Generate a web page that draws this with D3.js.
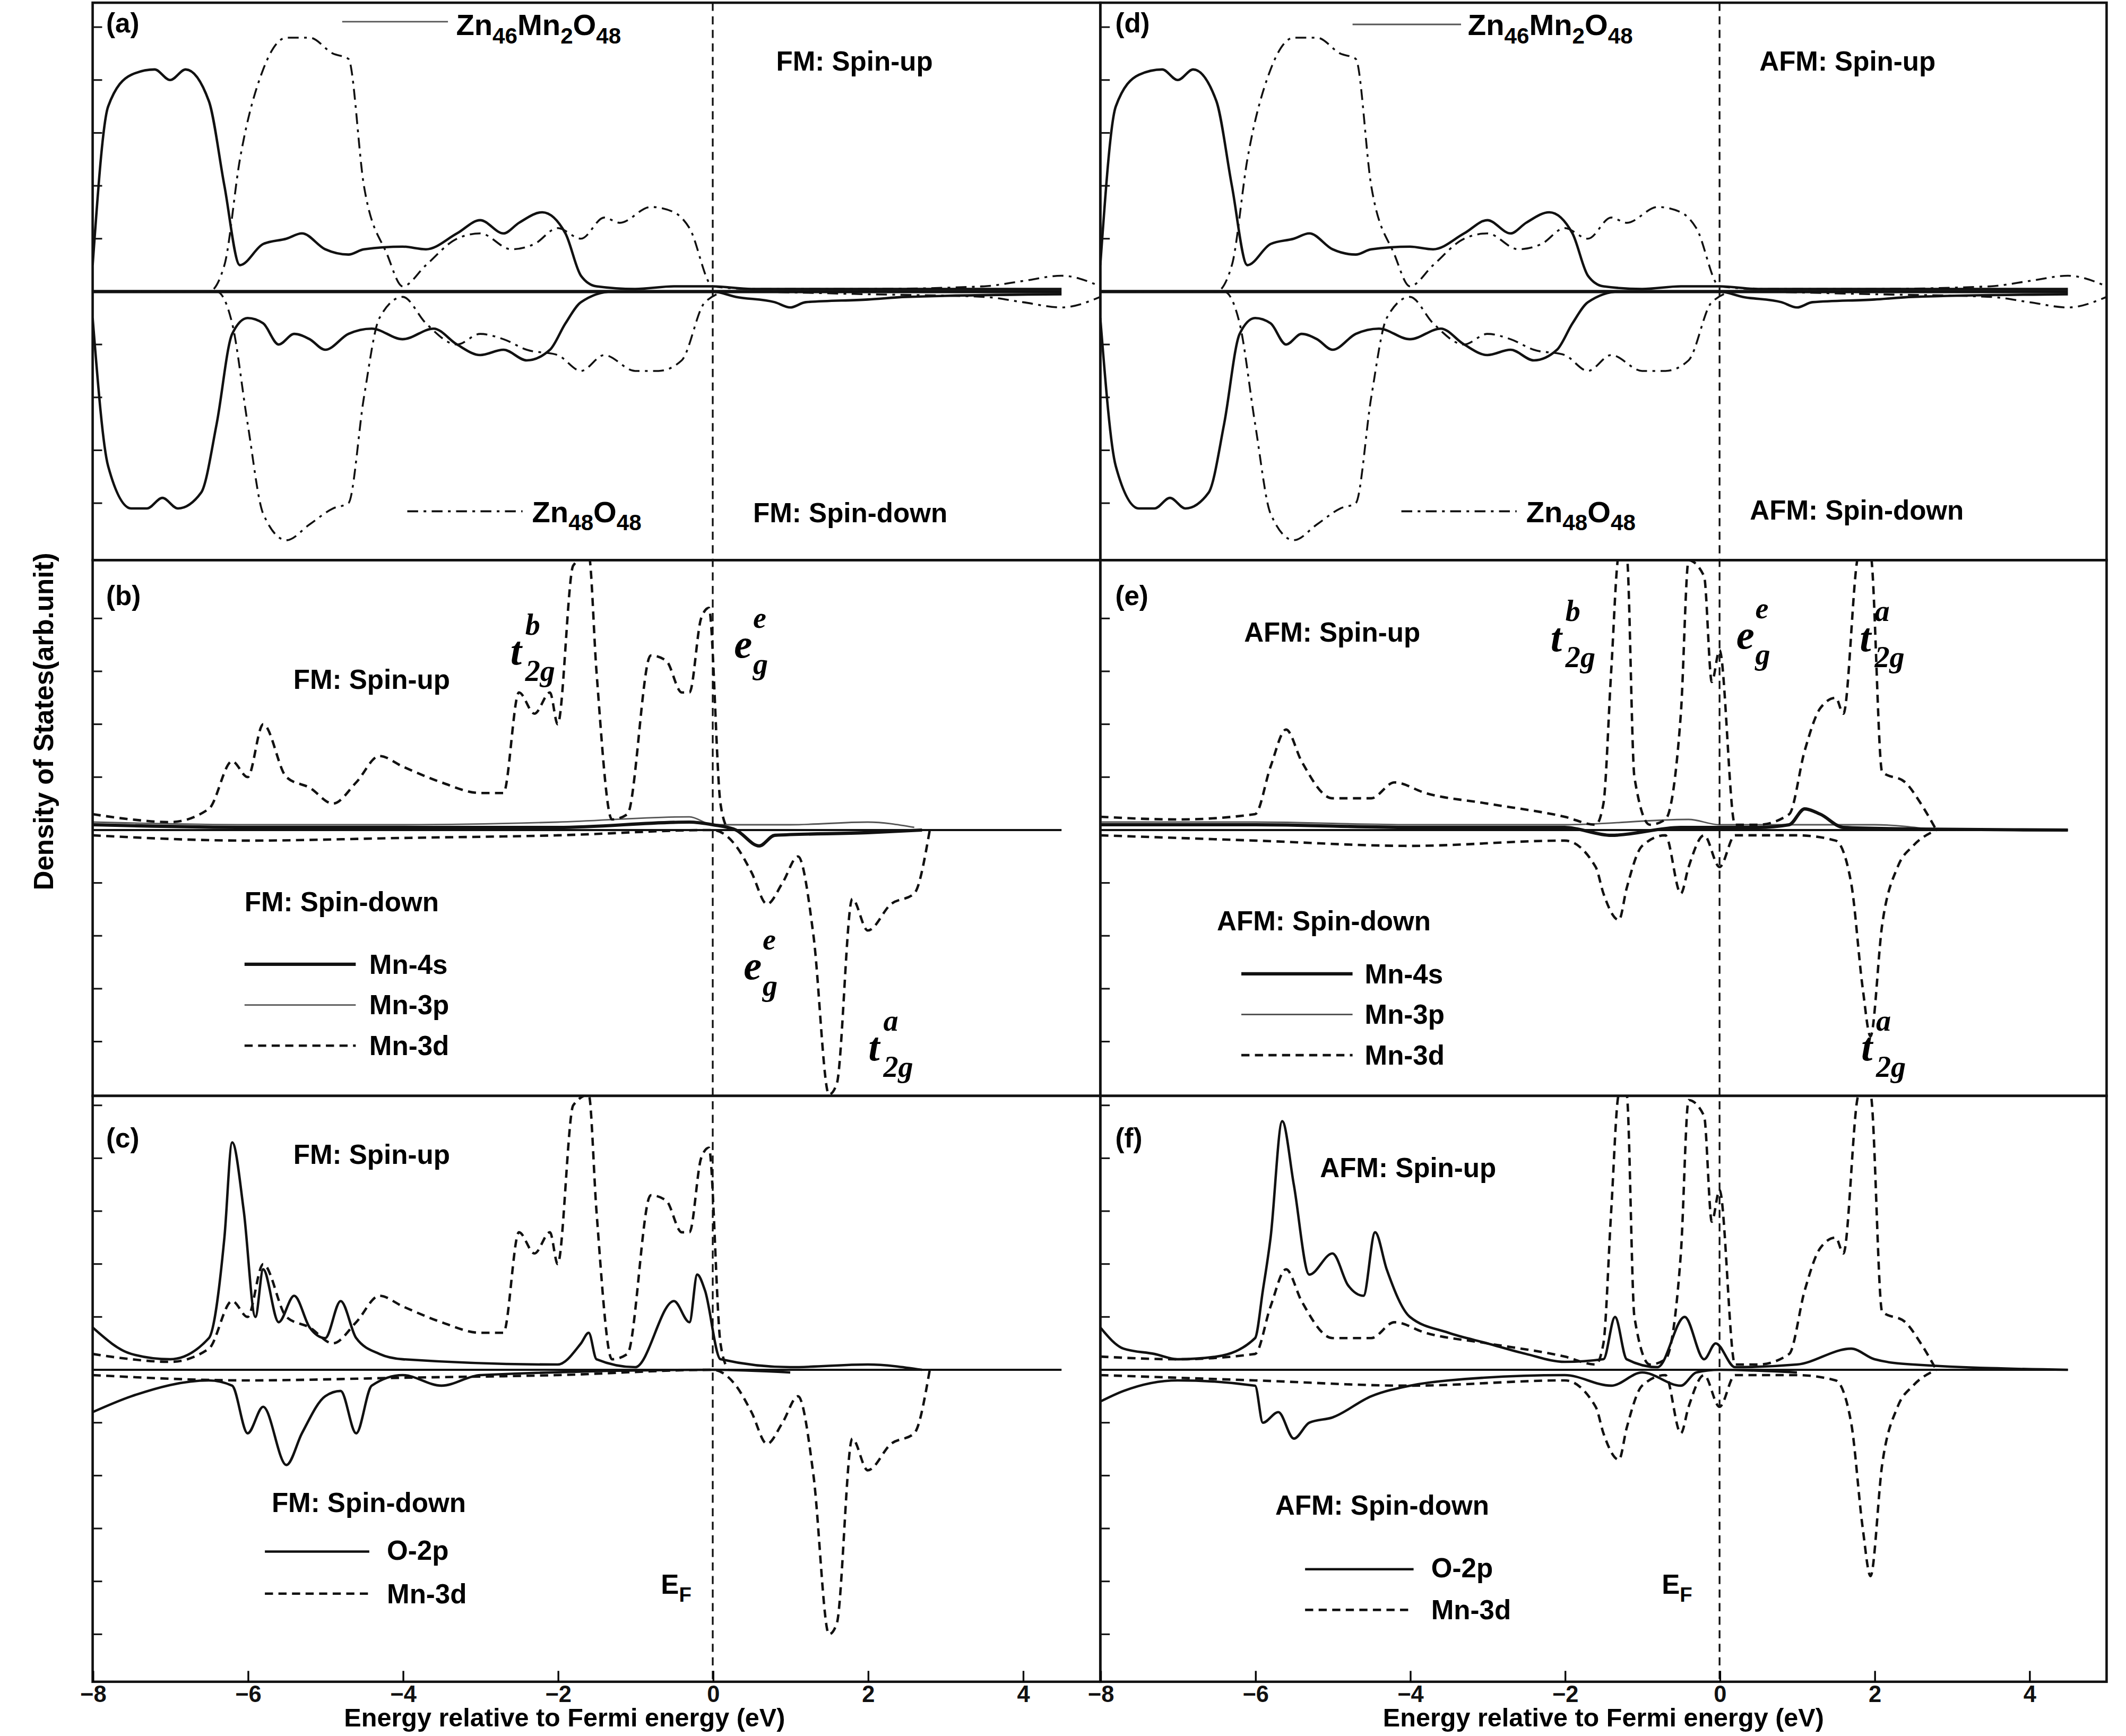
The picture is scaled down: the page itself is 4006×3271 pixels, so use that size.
<!DOCTYPE html>
<html><head><meta charset="utf-8">
<script src="https://cdnjs.cloudflare.com/ajax/libs/d3/7.8.5/d3.min.js"></script>
<style>body{margin:0;background:#fff}</style></head>
<body><div id="chart"></div>
<script>
// x ticks and category text
const xTicks = [-8, -6, -4, -2, 0, 2, 4];

// panel (a)/(d): host DOS, [energy, dos]
const zn46Up = [[-8,0.5],[-7.8,3.5],[-7.5,4.1],[-7.2,4.2],[-7.0,4.0],[-6.8,4.2],[-6.5,3.6],[-6.3,2.0],[-6.1,0.5],[-5.8,0.9],[-5.5,1.0],[-5.3,1.1],[-5.0,0.8],[-4.7,0.7],[-4.5,0.8],[-4.0,0.85],[-3.7,0.8],[-3.3,1.1],[-3.0,1.35],[-2.7,1.1],[-2.5,1.3],[-2.2,1.5],[-1.9,1.1],[-1.7,0.3],[-1.5,0.1],[-1.0,0.05],[-0.5,0.1],[0,0.1],[0.5,0.05],[2,0.05],[4.5,0.05]];
const zn46Down = [[-8,-0.5],[-7.8,-3.3],[-7.5,-4.1],[-7.3,-4.1],[-7.1,-3.9],[-6.9,-4.1],[-6.6,-3.8],[-6.4,-2.5],[-6.2,-0.8],[-6.0,-0.5],[-5.8,-0.6],[-5.6,-1.0],[-5.4,-0.8],[-5.2,-0.9],[-5.0,-1.1],[-4.7,-0.8],[-4.4,-0.7],[-4.0,-0.9],[-3.6,-0.7],[-3.3,-1.0],[-3.0,-1.2],[-2.7,-1.1],[-2.4,-1.3],[-2.1,-1.1],[-1.9,-0.6],[-1.7,-0.2],[-1.3,0],[0,0],[0.3,-0.1],[0.8,-0.2],[1,-0.3],[1.2,-0.2],[2,-0.15],[2.5,-0.1],[4.5,-0.05]];
const zn48Up = [[-8,0],[-6.5,0],[-6.3,0.5],[-6.1,2.5],[-5.8,4.2],[-5.5,4.8],[-5.2,4.8],[-4.9,4.5],[-4.7,4.4],[-4.5,2.0],[-4.2,0.7],[-4.0,0.1],[-3.7,0.5],[-3.3,1.0],[-3.0,1.1],[-2.6,0.8],[-2.3,0.9],[-2.0,1.2],[-1.7,1.0],[-1.4,1.4],[-1.2,1.3],[-0.8,1.6],[-0.5,1.5],[-0.3,1.2],[0,0.1],[0.5,0.05],[2,0.05],[3.5,0.1],[4,0.2],[4.5,0.3],[5,0.1]];
const zn48Down = [[-8,0],[-6.4,0],[-6.2,-0.6],[-6.0,-2.5],[-5.8,-4.2],[-5.5,-4.7],[-5.2,-4.4],[-4.9,-4.1],[-4.7,-4.0],[-4.5,-2.0],[-4.3,-0.5],[-4.0,-0.1],[-3.7,-0.6],[-3.3,-1.0],[-3.0,-0.8],[-2.7,-0.9],[-2.4,-1.1],[-2.0,-1.2],[-1.7,-1.5],[-1.4,-1.2],[-1.0,-1.5],[-0.7,-1.5],[-0.4,-1.3],[-0.1,-0.2],[0.2,0],[2,-0.05],[3.5,-0.1],[4,-0.2],[4.5,-0.3],[5,-0.1]];

// FM Mn states
const fmMn3dUp = [[-8,0.3],[-7.5,0.2],[-7,0.15],[-6.5,0.4],[-6.2,1.3],[-6.0,1.0],[-5.8,2.0],[-5.5,1.0],[-5.2,0.8],[-4.9,0.5],[-4.6,0.9],[-4.3,1.4],[-4.0,1.2],[-3.5,0.9],[-3.0,0.7],[-2.7,0.7],[-2.5,2.6],[-2.3,2.2],[-2.1,2.6],[-2.0,2.0],[-1.8,5.0],[-1.6,5.2],[-1.5,3.0],[-1.3,0.2],[-1.1,0.3],[-0.8,3.3],[-0.6,3.2],[-0.4,2.6],[-0.3,2.6],[-0.15,4.0],[-0.05,4.2],[0.1,0.5],[0.2,0]];
const fmMn3dDown = [[-8,-0.1],[-6,-0.2],[-4,-0.15],[-2,-0.1],[0,0],[0.3,-0.3],[0.5,-0.8],[0.7,-1.4],[0.9,-1.0],[1.1,-0.5],[1.3,-2.0],[1.5,-5.0],[1.6,-4.8],[1.8,-1.3],[2.0,-1.9],[2.3,-1.4],[2.6,-1.2],[2.8,0]];
const fmMn4s = [[-8,0.1],[-6,0.05],[-4,0.05],[-2,0.05],[-0.3,0.15],[0,0.1],[0.3,0],[0.6,-0.3],[0.8,-0.1],[2,-0.05],[2.7,0]];
const fmMn3p = [[-8,0.15],[-6,0.1],[-4,0.1],[-2,0.15],[-0.3,0.25],[0,0.1],[1,0.1],[2,0.15],[2.6,0.05]];
const fmO2pUp = [[-8,0.8],[-7.5,0.3],[-7,0.2],[-6.5,0.6],[-6.3,2.5],[-6.2,4.3],[-6.05,3.0],[-5.9,1.0],[-5.8,1.9],[-5.6,0.9],[-5.4,1.4],[-5.2,0.8],[-5.0,0.6],[-4.8,1.3],[-4.6,0.6],[-4.3,0.3],[-4.0,0.2],[-2.0,0.1],[-1.7,0.5],[-1.6,0.7],[-1.5,0.2],[-1.0,0.05],[-0.5,1.3],[-0.3,0.9],[-0.2,1.8],[-0.1,1.5],[0.1,0.2],[1,0.05],[2,0.1],[2.7,0]];
const fmO2pDown = [[-8,-0.8],[-7.5,-0.5],[-6.5,-0.2],[-6.2,-0.3],[-6.0,-1.2],[-5.8,-0.7],[-5.5,-1.8],[-5.3,-1.2],[-5.0,-0.5],[-4.8,-0.4],[-4.6,-1.2],[-4.4,-0.3],[-4,-0.1],[-3.5,-0.3],[-3,-0.1],[0,0],[1,-0.05]];

// AFM Mn states
const afmMn3dUp = [[-8,0.25],[-7,0.2],[-6,0.3],[-5.8,1.2],[-5.6,1.9],[-5.4,1.3],[-5,0.6],[-4.5,0.6],[-4.2,0.9],[-3.8,0.7],[-3,0.5],[-2,0.25],[-1.6,0.1],[-1.5,0.5],[-1.4,3.0],[-1.3,5.2],[-1.2,5.2],[-1.1,1.0],[-0.9,0.1],[-0.7,0.2],[-0.5,2.2],[-0.4,5.1],[-0.2,4.8],[-0.1,2.8],[0,3.4],[0.2,0.1],[0.5,0.1],[0.9,0.3],[1.1,1.5],[1.3,2.3],[1.5,2.5],[1.6,2.2],[1.8,5.2],[1.95,5.2],[2.1,1.1],[2.4,0.9],[2.6,0.5],[2.8,0]];
const afmMn3dDown = [[-8,-0.1],[-6,-0.2],[-4,-0.3],[-2,-0.2],[-1.6,-0.7],[-1.5,-1.2],[-1.3,-1.7],[-1.2,-1.1],[-1.0,-0.3],[-0.7,-0.1],[-0.5,-1.2],[-0.4,-0.7],[-0.2,-0.1],[0,-0.7],[0.2,-0.1],[1.0,-0.1],[1.5,-0.2],[1.7,-1.0],[1.85,-3.0],[1.95,-3.9],[2.1,-1.8],[2.3,-0.7],[2.5,-0.3],[2.8,0]];
const afmMn4s = [[-8,0.1],[-6,0.1],[-4,0.05],[-2,0.05],[-1.4,-0.1],[-0.5,0.05],[0.5,0.05],[0.9,0.1],[1.1,0.4],[1.3,0.3],[1.6,0.05],[2.5,0.02],[4.5,0]];
const afmMn3p = [[-8,0.15],[-6,0.15],[-4,0.1],[-2,0.1],[-0.4,0.2],[0,0.1],[1,0.1],[2,0.1],[2.8,0]];
const afmO2pUp = [[-8,0.8],[-7.7,0.4],[-7.3,0.3],[-7,0.2],[-6.5,0.25],[-6,0.6],[-5.9,1.5],[-5.8,2.5],[-5.65,4.7],[-5.5,3.5],[-5.3,1.8],[-5.0,2.2],[-4.8,1.6],[-4.6,1.4],[-4.45,2.6],[-4.3,1.9],[-4.0,1.0],[-3.5,0.7],[-3.0,0.5],[-2.5,0.3],[-2.0,0.15],[-1.5,0.2],[-1.35,1.0],[-1.2,0.2],[-0.8,0.05],[-0.45,1.0],[-0.2,0.2],[-0.05,0.5],[0.2,0.05],[1,0.1],[1.7,0.4],[2,0.2],[2.5,0.1],[4.5,0]];
const afmO2pDown = [[-8,-0.6],[-7.7,-0.4],[-7,-0.2],[-6,-0.3],[-5.9,-1.0],[-5.7,-0.8],[-5.5,-1.3],[-5.3,-1.0],[-5.0,-0.9],[-4.5,-0.5],[-4,-0.3],[-3.5,-0.2],[-2,-0.1],[-1.4,-0.3],[-1,-0.05],[-0.5,-0.3],[-0.3,-0.05],[0,0],[1,-0.05]];

const W = 1567, H = 1280;
const svg = d3.select("#chart").append("svg")
  .attr("width", 4006).attr("height", 3271)
  .attr("viewBox", `0 0 ${W} ${H}`)
  .style("font-family", "'Liberation Sans', Arial, sans-serif");

const plotL = 68, plotM = 811, plotR = 1553, plotT = 2, plotB = 1240;
const rows = [{y0: plotT, y1: 413, base: 215}, {y0: 413, y1: 808, base: 612}, {y0: 808, y1: plotB, base: 1010}];
const unit = 39;
const xs = [d3.scaleLinear().domain([-8, 5]).range([plotL, plotM]),
            d3.scaleLinear().domain([-8, 5]).range([plotM, plotR])];

const styles = {
  solid: {w: 1.8, dash: null, c: "#111"},
  thick: {w: 2.4, dash: null, c: "#111"},
  thin: {w: 1.1, dash: null, c: "#555"},
  dash: {w: 1.8, dash: "6,4", c: "#111"},
  dashdot: {w: 1.4, dash: "8,4,2,4", c: "#111"}
};

let clipId = 0;
function panel(col, row, series) {
  const x = xs[col], r = rows[row];
  const y = d3.scaleLinear().domain([-1, 1]).range([r.base + unit, r.base - unit]);
  const id = "clip" + (clipId++);
  svg.append("clipPath").attr("id", id).append("rect")
    .attr("x", x.range()[0]).attr("y", r.y0).attr("width", x.range()[1] - x.range()[0]).attr("height", r.y1 - r.y0);
  const g = svg.append("g").attr("clip-path", `url(#${id})`);
  const line = d3.line().x(d => x(d[0])).y(d => y(d[1])).curve(d3.curveMonotoneX);
  // baseline
  g.append("line").attr("x1", x(-8)).attr("x2", x(4.5)).attr("y1", y(0)).attr("y2", y(0))
    .attr("stroke", "#111").attr("stroke-width", row === 0 ? 2.4 : 1.6);
  series.forEach(s => {
    const st = styles[s.style];
    g.append("path").datum(s.data).attr("d", line).attr("fill", "none")
      .attr("stroke", st.c).attr("stroke-width", st.w).attr("stroke-dasharray", st.dash);
  });
  // left axis ticks
  const yt = d3.range(-6, 7).filter(v => v !== 0).map(v => r.base - v * unit).filter(v => v > r.y0 + 5 && v < r.y1 - 5);
  svg.append("g").selectAll("line").data(yt).join("line")
    .attr("x1", x.range()[0]).attr("x2", x.range()[0] + 7).attr("y1", d => d).attr("y2", d => d)
    .attr("stroke", "#111").attr("stroke-width", 1.2);
  // frame
  svg.append("rect").attr("x", x.range()[0]).attr("y", r.y0).attr("width", x.range()[1] - x.range()[0])
    .attr("height", r.y1 - r.y0).attr("fill", "none").attr("stroke", "#111").attr("stroke-width", 1.8);
}

panel(0, 0, [{data: zn46Up, style: "solid"}, {data: zn46Down, style: "solid"}, {data: zn48Up, style: "dashdot"}, {data: zn48Down, style: "dashdot"}]);
panel(1, 0, [{data: zn46Up, style: "solid"}, {data: zn46Down, style: "solid"}, {data: zn48Up, style: "dashdot"}, {data: zn48Down, style: "dashdot"}]);
panel(0, 1, [{data: fmMn3p, style: "thin"}, {data: fmMn4s, style: "thick"}, {data: fmMn3dUp, style: "dash"}, {data: fmMn3dDown, style: "dash"}]);
panel(1, 1, [{data: afmMn3p, style: "thin"}, {data: afmMn4s, style: "thick"}, {data: afmMn3dUp, style: "dash"}, {data: afmMn3dDown, style: "dash"}]);
panel(0, 2, [{data: fmO2pUp, style: "solid"}, {data: fmO2pDown, style: "solid"}, {data: fmMn3dUp, style: "dash"}, {data: fmMn3dDown, style: "dash"}]);
panel(1, 2, [{data: afmO2pUp, style: "solid"}, {data: afmO2pDown, style: "solid"}, {data: afmMn3dUp, style: "dash"}, {data: afmMn3dDown, style: "dash"}]);

// Fermi level lines and x axes
const titleX = [416, 1182];
xs.forEach((x, i) => {
  svg.append("line").attr("x1", x(0)).attr("x2", x(0)).attr("y1", plotT).attr("y2", plotB)
    .attr("stroke", "#111").attr("stroke-width", 1.3).attr("stroke-dasharray", "6,4");
  const ax = svg.append("g").attr("transform", `translate(0,${plotB})`)
    .call(d3.axisBottom(x).tickValues(xTicks).tickSizeInner(-8).tickSizeOuter(0).tickPadding(3).tickFormat(d3.format("d")));
  ax.select(".domain").remove();
  ax.selectAll("line").attr("stroke-width", 1.3);
  ax.selectAll("text").style("font-size", "17px").style("font-weight", "bold").style("font-family", "'Liberation Sans', Arial, sans-serif").attr("fill", "#111");
  svg.append("text").attr("x", titleX[i]).attr("y", 1273).attr("text-anchor", "middle")
    .style("font-size", "19px").style("font-weight", "bold").text("Energy relative to Fermi energy (eV)");
});
svg.append("text").attr("transform", "translate(39,532) rotate(-90)").attr("text-anchor", "middle")
  .style("font-size", "20px").style("font-weight", "bold").text("Density of States(arb.unit)");

// text helpers
function label(x, y, parts, size) {
  const t = svg.append("text").attr("x", x).attr("y", y).style("font-size", (size || 20) + "px").style("font-weight", "bold");
  parts.forEach(p => {
    const s = t.append("tspan").text(p[0]);
    if (p[1] === "sub") s.attr("dy", 6).style("font-size", ((size || 20) * 0.75) + "px");
    else if (p[1] === "up") s.attr("dy", -6);
  });
}
function legLine(x1, x2, y, style) {
  const st = styles[style];
  svg.append("line").attr("x1", x1).attr("x2", x2).attr("y1", y).attr("y2", y)
    .attr("stroke", st.c).attr("stroke-width", style === "dashdot" ? 1.4 : st.w).attr("stroke-dasharray", st.dash);
}
function orb(x, y, base, sub, sup) {
  const t = svg.append("text").attr("x", x).attr("y", y).style("font-family", "'Liberation Serif', serif")
    .style("font-style", "italic").style("font-weight", "bold").style("font-size", "30px");
  t.append("tspan").text(base);
  t.append("tspan").attr("x", x + (base === "t" ? 11 : 14)).attr("dy", -22).style("font-size", "22px").text(sup);
  t.append("tspan").attr("x", x + (base === "t" ? 11 : 14)).attr("dy", 34).style("font-size", "22px").text(sub);
}

const zn46Label = [["Zn"], ["46", "sub"], ["Mn", "up"], ["2", "sub"], ["O", "up"], ["48", "sub"]];
const zn48Label = [["Zn"], ["48", "sub"], ["O", "up"], ["48", "sub"]];

// panel a / d
label(78, 24, [["(a)"]]); label(822, 24, [["(d)"]]);
legLine(252, 330, 16, "thin"); label(336, 26, zn46Label, 22);
legLine(300, 385, 377, "dashdot"); label(392, 385, zn48Label, 22);
label(572, 52, [["FM: Spin-up"]]); label(555, 385, [["FM: Spin-down"]]);
legLine(997, 1077, 18, "thin"); label(1082, 26, zn46Label, 22);
legLine(1033, 1118, 377, "dashdot"); label(1125, 385, zn48Label, 22);
label(1297, 52, [["AFM: Spin-up"]]); label(1290, 383, [["AFM: Spin-down"]]);

// panel b / e
label(78, 446, [["(b)"]]); label(822, 446, [["(e)"]]);
label(216, 508, [["FM: Spin-up"]]); label(180, 672, [["FM: Spin-down"]]);
const mnLeg = [["Mn-4s", "thick"], ["Mn-3p", "thin"], ["Mn-3d", "dash"]];
mnLeg.forEach((d, i) => { legLine(180, 262, 711 + i * 30, d[1]); label(272, 718 + i * 30, [[d[0]]]); });
label(917, 473, [["AFM: Spin-up"]]); label(897, 686, [["AFM: Spin-down"]]);
mnLeg.forEach((d, i) => { legLine(915, 997, 718 + i * 30, d[1]); label(1006, 725 + i * 30, [[d[0]]]); });
orb(376, 490, "t", "2g", "b"); orb(541, 485, "e", "g", "e"); orb(548, 722, "e", "g", "e"); orb(640, 782, "t", "2g", "a");
orb(1143, 480, "t", "2g", "b"); orb(1280, 478, "e", "g", "e"); orb(1371, 480, "t", "2g", "a"); orb(1372, 782, "t", "2g", "a");

// panel c / f
label(78, 846, [["(c)"]]); label(822, 846, [["(f)"]]);
label(216, 858, [["FM: Spin-up"]]); label(200, 1115, [["FM: Spin-down"]]);
legLine(195, 272, 1144, "solid"); label(285, 1150, [["O-2p"]]);
legLine(195, 272, 1175, "dash"); label(285, 1182, [["Mn-3d"]]);
label(487, 1175, [["E"], ["F", "sub"]]);
label(973, 868, [["AFM: Spin-up"]]); label(940, 1117, [["AFM: Spin-down"]]);
legLine(962, 1042, 1157, "solid"); label(1055, 1163, [["O-2p"]]);
legLine(962, 1042, 1187, "dash"); label(1055, 1194, [["Mn-3d"]]);
label(1225, 1175, [["E"], ["F", "sub"]]);
</script></body></html>
